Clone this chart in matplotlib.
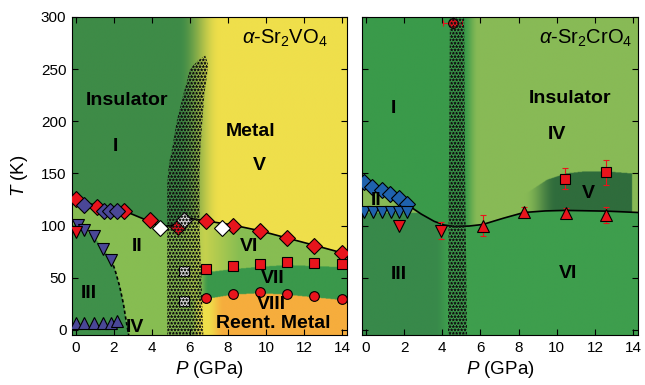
import numpy as np
import matplotlib
matplotlib.use('Agg')
import matplotlib.pyplot as plt
from matplotlib.colors import to_rgb

plt.rcParams['font.family'] = ['Liberation Sans', 'DejaVu Sans']
plt.rcParams['mathtext.fontset'] = 'custom'
plt.rcParams['mathtext.rm'] = 'Liberation Sans'
plt.rcParams['mathtext.it'] = 'Liberation Sans:italic'
plt.rcParams['mathtext.bf'] = 'Liberation Sans:bold'
plt.rcParams['hatch.linewidth'] = 0.45

# ---------------- alpha-Sr2VO4 data ----------------
v_red_dia_p = [0.0, 1.1, 2.55, 3.9, 6.83, 8.24, 9.67, 11.1, 12.54, 13.98]
v_red_dia_t = [125, 118, 114, 105.5, 104, 100, 94.6, 88, 80, 73.5]
v_blue_dia_p = [0.42, 1.46, 1.8, 2.15]
v_blue_dia_t = [120, 113.5, 113.5, 113.5]
v_white_dia_p = [4.4, 7.7]
v_white_dia_t = [97.5, 98]
v_hidden_dia_p = [5.35]          # red diamond inside mixed region
v_hidden_dia_t = [99]
v_grey_dia_p = [5.7]
v_grey_dia_t = [105.5]
v_grey_sq_p = [5.71, 5.71]
v_grey_sq_t = [56.6, 28]
v_blue_dn_p = [0.12, 0.42, 0.94, 1.44, 1.86]
v_blue_dn_t = [100.7, 96, 89.5, 77.4, 67]
v_red_dn_p = [0.0]
v_red_dn_t = [94]
v_blue_up_p = [0.0, 0.44, 0.96, 1.44, 1.86, 2.17]
v_blue_up_t = [6.4, 6.4, 6.4, 6.4, 6.4, 8.5]
v_sq_p = [6.83, 8.24, 9.67, 11.1, 12.54, 13.98]
v_sq_t = [58, 61, 63.3, 65, 64, 63]
v_circ_p = [6.83, 8.24, 9.67, 11.1, 12.54, 13.98]
v_circ_t = [30.4, 34.5, 36, 34.5, 32, 29.4]
# phase boundary (solid line)
v_line_p = [-0.2, 0.0, 1.1, 2.55, 3.6, 4.45, 5.3, 5.9, 6.83, 8.24, 9.67, 11.1, 12.54, 14.25]
v_line_t = [126, 125, 119, 114, 106, 98.5, 101, 107, 104.5, 100.5, 95, 88, 81, 72.5]
# III boundary (triangles + dashed curve)
v_iii_p = [-0.2, 0.12, 0.42, 0.94, 1.44, 1.86, 2.05, 2.3, 2.5, 2.65, 2.78]
v_iii_t = [101, 100.7, 96, 89.5, 77.4, 67, 58, 42, 25, 8, -5]
# mixed-phase region outline
v_mix_p = [4.8, 4.8, 4.9, 5.07, 5.3, 5.64, 6.0, 6.4, 6.8, 6.95, 6.9, 6.75, 6.65, 6.55, 6.5, 6.5, 6.6, 6.7]
v_mix_t = [-5, 140, 160, 175, 200, 225, 250, 258, 263, 255, 245, 225, 200, 175, 150, 100, 50, -5]

# ---------------- alpha-Sr2CrO4 data ----------------
c_blue_dia_p = [-0.1, 0.33, 0.86, 1.26, 1.74, 2.17]
c_blue_dia_t = [142, 136.5, 134, 130, 126, 121]
c_blue_dn_p = [-0.1, 0.38, 0.86, 1.3, 1.74, 2.17]
c_blue_dn_t = [112.5, 112.5, 112.5, 112.5, 112.5, 112.5]
c_red_dn_p = [1.74, 3.96]
c_red_dn_t = [100, 95]
c_red_dn_err = [0, 8]
c_red_up_p = [6.12, 8.28, 10.46, 12.6]
c_red_up_t = [99.7, 112.5, 112, 110]
c_red_up_err = [10, 5, 5, 8]
c_sq_p = [10.42, 12.6]
c_sq_t = [145, 151]
c_sq_err = [10, 12]
c_circ_p = [4.54]
c_circ_t = [294]
c_circ_xerr = [0.5]
c_line_p = [-0.2, 2.17, 2.9, 3.58, 4.1, 4.63, 5.4, 6.12, 7.2, 8.28, 9.4, 10.46, 12.6, 14.25]
c_line_t = [143, 120, 111, 104, 100.5, 99, 99.5, 101, 107, 112.5, 114, 114.5, 113.8, 112.5]
c_dome_p = [7.5, 8.5, 9.5, 10.5, 11.5, 12.5, 13.95]
c_dome_t = [118, 132, 144, 150, 152, 152, 150]
c_mix_p = [4.3, 4.35, 4.4, 5.15, 5.2, 5.3]
c_mix_t = [-5, 150, 300, 300, 150, -5]

XLIM = (-0.2, 14.25)
YLIM = (-5, 300)

RED = '#e8141c'
PURPLE = '#4a4797'
BLUE = '#1f62ad'


def smooth(x):
    x = np.clip(x, 0, 1)
    return x * x * (3 - 2 * x)


def mix(a, b, w):
    a = np.asarray(a, float)
    b = np.asarray(b, float)
    w = np.asarray(w, float)[..., None]
    return a * (1 - w) + b * w


P, T = np.meshgrid(np.linspace(XLIM[0], XLIM[1], 700), np.linspace(YLIM[0], YLIM[1], 700))

# background for Sr2VO4
dark = to_rgb('#3e8b47')
yellow = to_rgb('#efdf4b')
light = to_rgb('#87bd52')
green3 = to_rgb('#3f904a')
green7 = to_rgb('#3a984b')
orange = to_rgb('#f6ad3d')

upper = np.interp(P, v_line_p, v_line_t)
col_above = mix(dark, yellow, smooth((P - 5.4) / 2.2))
col_below = mix(light, yellow, 0.6 * np.clip((P - 5.5) / 1.3, 0, 1) * np.clip((8.6 - P) / 1.8, 0, 1))
sq_top = np.interp(P, v_sq_p, v_sq_t) - 3
circ = np.interp(P, v_circ_p, v_circ_t) - 1
band = (T < sq_top) & (T >= circ)
col_band = mix(col_below, green7, smooth((P - 6.2) / 0.8))
col_low = mix(mix(light, yellow, smooth((P - 6.0) / 0.7)), orange, smooth((P - 6.9) / 0.9))
img_v = np.where((T >= upper)[..., None], col_above, col_below)
img_v = np.where(band[..., None], col_band, img_v)
img_v = np.where((T < circ)[..., None], col_low, img_v)
iii = T < np.interp(P, v_iii_p, v_iii_t)
img_v = np.where(iii[..., None], np.broadcast_to(green3, img_v.shape), img_v)

# background for Sr2CrO4
cr1 = to_rgb('#3a9a4a')
cr4 = to_rgb('#88ba56')
cr5 = to_rgb('#2f6c3c')
cr6 = to_rgb('#3e9e4d')
cr3 = to_rgb('#38894a')

cline = np.interp(P, c_line_p, c_line_t)
above_c = T >= cline
img_c = mix(cr1, cr4, smooth((P - 5.1) / 0.8))
dome = above_c & (T < np.interp(P, c_dome_p, c_dome_t)) & (P < 13.95)
img_c = np.where(dome[..., None], mix(img_c, cr5, smooth((P - 8.3) / 1.7)), img_c)
below_c = mix(cr3, cr6, smooth((P - 3.6) / 0.8))
img_c = np.where(above_c[..., None], img_c, below_c)
region2 = (~above_c) & (T > 112) & (P < 4.3)
img_c = np.where(region2[..., None], np.broadcast_to(cr4, img_c.shape), img_c)

fig = plt.figure(figsize=(6.45, 3.85), dpi=100)
ax1 = fig.add_axes([72 / 645, 50 / 385, 275 / 645, 318 / 385])
ax2 = fig.add_axes([362 / 645, 50 / 385, 276 / 645, 318 / 385])

for ax, img in ((ax1, img_v), (ax2, img_c)):
    ax.imshow(img, extent=(XLIM[0], XLIM[1], YLIM[0], YLIM[1]), origin='lower',
              aspect='auto', interpolation='bilinear', zorder=0)
    ax.set_xlim(XLIM)
    ax.set_ylim(YLIM)
    ax.set_xticks(range(0, 15, 2))
    ax.set_yticks(range(0, 301, 50))
    ax.tick_params(direction='in', top=True, right=True, length=4, width=0.8,
                   labelsize=11, pad=4)
    ax.set_xlabel('$P$ (GPa)', fontsize=13.5, labelpad=3)
    for s in ax.spines.values():
        s.set_linewidth(0.8)

ax2.tick_params(labelleft=False)
ax1.set_ylabel('$T$ (K)', fontsize=13.5, labelpad=8)

mk = dict(linestyle='none', markeredgecolor='black', markeredgewidth=0.8)
DS, TS, SS = 8.5, 8, 7

# ---- left panel ----
ax1.plot(v_line_p, v_line_t, color='black', lw=1.2, zorder=2)
ax1.plot(v_iii_p[5:], v_iii_t[5:], color='black', lw=1.2, ls=(0, (2, 1.5)), zorder=2)
ax1.fill(v_mix_p, v_mix_t, facecolor='none', edgecolor='#111111', hatch='*****', lw=0, zorder=3)
ax1.plot(v_hidden_dia_p, v_hidden_dia_t, marker='D', ms=DS, color=RED, zorder=2.5, **mk)
ax1.plot(v_grey_dia_p, v_grey_dia_t, marker='D', ms=DS, color='#dddddd', zorder=2.5, **mk)
ax1.plot(v_grey_sq_p, v_grey_sq_t, marker='s', ms=SS, color='#dddddd', zorder=2.5, **mk)
ax1.plot(v_red_dia_p, v_red_dia_t, marker='D', ms=DS, color=RED, zorder=4, **mk)
ax1.plot(v_blue_dia_p, v_blue_dia_t, marker='D', ms=DS, color=PURPLE, zorder=4, **mk)
ax1.plot(v_white_dia_p, v_white_dia_t, marker='D', ms=DS, color='white', zorder=4, **mk)
ax1.plot(v_blue_dn_p, v_blue_dn_t, marker='v', ms=TS, color=PURPLE, zorder=4, **mk)
ax1.plot(v_red_dn_p, v_red_dn_t, marker='v', ms=TS, color=RED, zorder=4, **mk)
ax1.plot(v_blue_up_p, v_blue_up_t, marker='^', ms=TS, color=PURPLE, zorder=4, **mk)
ax1.plot(v_sq_p, v_sq_t, marker='s', ms=SS, color=RED, zorder=4, **mk)
ax1.plot(v_circ_p, v_circ_t, marker='o', ms=SS, color=RED, zorder=4, **mk)

bold = dict(fontsize=14, fontweight='bold', ha='center', va='center', zorder=5)
ax1.text(2.7, 220, 'Insulator', **bold)
ax1.text(2.1, 176, 'I', **bold)
ax1.text(9.2, 190, 'Metal', **bold)
ax1.text(9.67, 158, 'V', **bold)
ax1.text(3.2, 80, 'II', **bold)
ax1.text(9.1, 80, 'VI', **bold)
ax1.text(10.36, 49.5, 'VII', **bold)
ax1.text(10.3, 24, 'VIII', **bold)
ax1.text(10.4, 6, 'Reent. Metal', **bold)
ax1.text(0.7, 35, 'III', **bold)
ax1.text(3.1, 2, 'IV', **bold)
ax1.text(11.0, 280, r'$\alpha$-Sr$_2$VO$_4$', fontsize=14.5, ha='center', va='center', zorder=5)

# ---- right panel ----
ax2.plot(c_line_p[1:], c_line_t[1:], color='black', lw=1.2, zorder=2)
ax2.fill(c_mix_p, c_mix_t, facecolor='none', edgecolor='#111111', hatch='*****', lw=0, zorder=3)
ax2.errorbar(c_circ_p, c_circ_t, xerr=c_circ_xerr, marker='o', ms=SS, color=RED, ecolor=RED,
             elinewidth=0.8, capsize=2.5, zorder=2.5, **mk)
ax2.plot(c_blue_dia_p, c_blue_dia_t, marker='D', ms=DS, color=BLUE, zorder=4, **mk)
ax2.plot(c_blue_dn_p, c_blue_dn_t, marker='v', ms=TS, color=BLUE, zorder=4, **mk)
ax2.errorbar(c_red_dn_p, c_red_dn_t, yerr=c_red_dn_err, marker='v', ms=TS, color=RED, ecolor=RED,
             elinewidth=0.8, capsize=2.5, zorder=4, **mk)
ax2.errorbar(c_red_up_p, c_red_up_t, yerr=c_red_up_err, marker='^', ms=TS, color=RED, ecolor=RED,
             elinewidth=0.8, capsize=2.5, zorder=4, **mk)
ax2.errorbar(c_sq_p, c_sq_t, yerr=c_sq_err, marker='s', ms=SS, color=RED, ecolor=RED,
             elinewidth=0.8, capsize=2.5, zorder=4, **mk)

ax2.text(10.7, 222, 'Insulator', **bold)
ax2.text(1.47, 212, 'I', **bold)
ax2.text(10.0, 187, 'IV', **bold)
ax2.text(11.65, 131, 'V', **bold)
ax2.text(0.56, 124, 'II', **bold)
ax2.text(1.74, 53, 'III', **bold)
ax2.text(10.6, 54, 'VI', **bold)
ax2.text(11.5, 280, r'$\alpha$-Sr$_2$CrO$_4$', fontsize=14.5, ha='center', va='center', zorder=5)

fig.savefig('out.png', dpi=100)
